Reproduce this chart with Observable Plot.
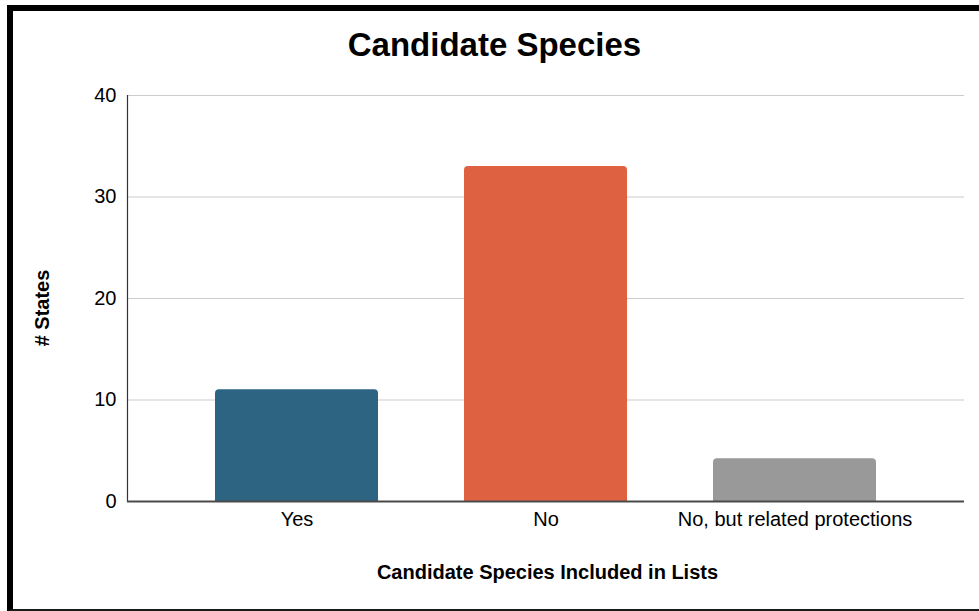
<!DOCTYPE html>
<html>
<head>
<meta charset="utf-8">
<script src="https://cdn.jsdelivr.net/npm/d3@7"></script>
<script src="https://cdn.jsdelivr.net/npm/@observablehq/plot@0.6"></script>
<style>
  html, body { margin: 0; padding: 0; background: #fff; }
  body { width: 979px; height: 611px; position: relative; overflow: hidden; font-family: "Liberation Sans", Arial, sans-serif; }
  #chart { position: absolute; left: 0; top: 0; }
  #border { position: absolute; left: 7px; top: 5px; width: 980px; height: 606px; box-sizing: border-box;
            border-left: 6px solid #000; border-top: 6px solid #000; border-bottom: 2px solid #1a1a1a; pointer-events: none; }
  #title { position: absolute; left: 0; width: 989px; top: 26px; text-align: center; font-weight: bold; font-size: 33px; color: #000; }
  #xtitle { position: absolute; left: 0; width: 1095px; top: 561px; text-align: center; font-weight: bold; font-size: 20px; color: #000; }
  #ytitle { position: absolute; left: 42px; top: 308px; transform: translate(-50%, -50%) rotate(-90deg); white-space: nowrap; font-weight: bold; font-size: 20px; color: #000; }
</style>
</head>
<body>
<div id="chart"></div>
<div id="title">Candidate Species</div>
<div id="xtitle">Candidate Species Included in Lists</div>
<div id="ytitle"># States</div>
<div id="border"></div>
<script>
const categories = ["Yes", "No", "No, but related protections"];
const states = [11, 33, 4.2];
const barColors = ["#2d6482", "#de6142", "#999999"];
const yTicks = [0, 10, 20, 30, 40];
const gridTicks = [10, 20, 30, 40];

const data = categories.map((c, i) => ({category: c, value: states[i], color: barColors[i]}));

const chart = Plot.plot({
  width: 979,
  height: 611,
  marginLeft: 127,
  marginRight: 15,
  marginTop: 95,
  marginBottom: 110,
  style: {fontFamily: "'Liberation Sans', Arial, sans-serif", fontSize: "20px", color: "#000", background: "transparent"},
  x: {domain: categories, paddingInner: 0.345, paddingOuter: 0.35, label: null},
  y: {domain: [0, 40], label: null},
  marks: [
    Plot.gridY(gridTicks, {stroke: "#cccccc", strokeOpacity: 1, strokeWidth: 1.2}),
    Plot.barY(data, {x: "category", y: "value", fill: "color", rx: 4}),
    Plot.barY(data, {x: "category", y: d => d.value / 2, fill: "color"}),
    Plot.frame({anchor: "left", stroke: "#333", strokeWidth: 1.2}),
    Plot.ruleY([0], {stroke: "#4a4a4a", strokeWidth: 2}),
    Plot.axisY(yTicks, {tickSize: 0, tickPadding: 11, label: null, fontSize: 20, fill: "#000"}),
    Plot.axisX({tickSize: 0, tickPadding: 10, label: null, fontSize: 20, fill: "#000"})
  ]
});
document.getElementById("chart").appendChild(chart);
</script>
</body>
</html>
